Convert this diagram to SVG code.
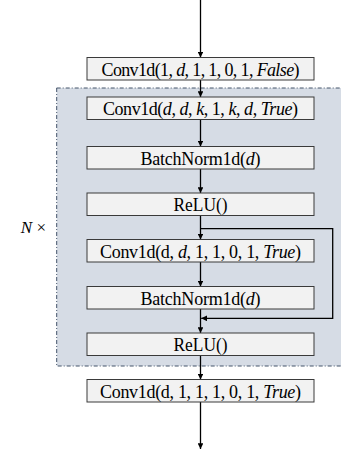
<svg xmlns="http://www.w3.org/2000/svg" width="341" height="456" viewBox="0 0 341 456">
<style>
.box{fill:#f2f2f2;stroke:#3a3a3a;stroke-width:1}
.t{font-family:"Liberation Serif","Times New Roman",serif;font-size:18px;fill:#000;text-anchor:middle}
.i{font-style:italic}
.c{fill:none;stroke:#000;stroke-width:1.3}
</style>
<defs>
<marker id="ah" viewBox="0 0 10 10" refX="10" refY="5" markerWidth="4.5" markerHeight="4.5" orient="auto" markerUnits="strokeWidth">
<path d="M0,0 L10,5 L0,10 z" fill="#000"/>
</marker>
</defs>
<g id="region">
<rect x="56.7" y="88" width="300" height="278" fill="#d6dce5" stroke="#44546a" stroke-width="1" stroke-dasharray="4,2,1,2"/>
<text x="46" y="233" font-family="Liberation Serif,serif" font-size="17" text-anchor="end"><tspan font-style="italic">N</tspan> ×</text>
</g>
<g id="connectors">
<line class="c" x1="200.5" y1="0" x2="200.5" y2="57.5" marker-end="url(#ah)"/>
<line class="c" x1="200.5" y1="80" x2="200.5" y2="97" marker-end="url(#ah)"/>
<line class="c" x1="200.5" y1="119.5" x2="200.5" y2="146.5" marker-end="url(#ah)"/>
<line class="c" x1="200.5" y1="169" x2="200.5" y2="193" marker-end="url(#ah)"/>
<line class="c" x1="200.5" y1="215.5" x2="200.5" y2="239.5" marker-end="url(#ah)"/>
<line class="c" x1="200.5" y1="262" x2="200.5" y2="286.5" marker-end="url(#ah)"/>
<line class="c" x1="200.5" y1="309" x2="200.5" y2="333" marker-end="url(#ah)"/>
<line class="c" x1="200.5" y1="355.5" x2="200.5" y2="379.5" marker-end="url(#ah)"/>
<line class="c" x1="200.5" y1="402" x2="200.5" y2="449" marker-end="url(#ah)"/>
<polyline class="c" points="200.5,228.7 332.7,228.7 332.7,318.3 201.2,318.3" marker-end="url(#ah)"/>
</g>
<g id="n1">
<rect class="box" x="87" y="57.5" width="227" height="22.5"/>
<text class="t" x="200.5" y="75.5" textLength="198" lengthAdjust="spacing">Conv1d(1, <tspan class="i">d</tspan>, 1, 1, 0, 1, <tspan class="i">False</tspan>)</text>
</g>
<g id="n2">
<rect class="box" x="87" y="97" width="227" height="22.5"/>
<text class="t" x="200.5" y="115" textLength="195" lengthAdjust="spacing">Conv1d(<tspan class="i">d</tspan>, <tspan class="i">d</tspan>, <tspan class="i">k</tspan>, 1, <tspan class="i">k</tspan>, <tspan class="i">d</tspan>, <tspan class="i">True</tspan>)</text>
</g>
<g id="n3">
<rect class="box" x="87" y="146.5" width="227" height="22.5"/>
<text class="t" x="200.5" y="164.5" textLength="120" lengthAdjust="spacing">BatchNorm1d(<tspan class="i">d</tspan>)</text>
</g>
<g id="n4">
<rect class="box" x="87" y="193" width="227" height="22.5"/>
<text class="t" x="200.5" y="211" textLength="54" lengthAdjust="spacingAndGlyphs">ReLU()</text>
</g>
<g id="n5">
<rect class="box" x="87" y="239.5" width="227" height="22.5"/>
<text class="t" x="200.5" y="257.5" textLength="201" lengthAdjust="spacing">Conv1d(d, <tspan class="i">d</tspan>, 1, 1, 0, 1, <tspan class="i">True</tspan>)</text>
</g>
<g id="n6">
<rect class="box" x="87" y="286.5" width="227" height="22.5"/>
<text class="t" x="200.5" y="304.5" textLength="120" lengthAdjust="spacing">BatchNorm1d(<tspan class="i">d</tspan>)</text>
</g>
<g id="n7">
<rect class="box" x="87" y="333" width="227" height="22.5"/>
<text class="t" x="200.5" y="351" textLength="54" lengthAdjust="spacingAndGlyphs">ReLU()</text>
</g>
<g id="n8">
<rect class="box" x="87" y="379.5" width="227" height="22.5"/>
<text class="t" x="200.5" y="397.5" textLength="201" lengthAdjust="spacing">Conv1d(d, 1, 1, 1, 0, 1, <tspan class="i">True</tspan>)</text>
</g>
</svg>
